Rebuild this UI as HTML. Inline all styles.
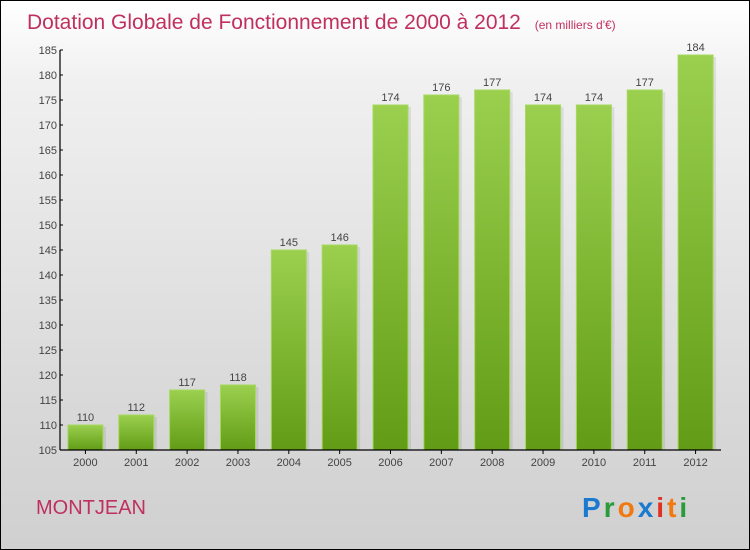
<!DOCTYPE html>
<html><head><meta charset="utf-8"><style>
body{margin:0}
#c{width:750px;height:550px;position:relative;box-sizing:border-box;border:1px solid #000;background:linear-gradient(#ffffff,#f0f0f0 15%,#d8d8d8 75%,#d0d0d0);font-family:"Liberation Sans",sans-serif;overflow:hidden}
</style></head><body>
<div id="c">
<svg width="750" height="550" style="position:absolute;left:-1px;top:-1px">
<defs><linearGradient id="g" x1="0" y1="0" x2="0" y2="1"><stop offset="0" stop-color="#9ad04e"/><stop offset="1" stop-color="#629c16"/></linearGradient></defs>
<text x="27" y="29" font-size="21" fill="#c0305e">Dotation Globale de Fonctionnement de 2000 à 2012 <tspan font-size="12" dx="8">(en milliers d'€)</tspan></text>
<g id="plot"></g>
<text x="36" y="514" font-size="20" fill="#c0305e">MONTJEAN</text>
<text x="582" y="517" font-size="28" font-weight="bold" letter-spacing="3"><tspan fill="#1a7ad0">P</tspan><tspan fill="#2a9a3a">r</tspan><tspan fill="#f07a10">o</tspan><tspan fill="#1a7ad0">x</tspan><tspan fill="#e03020">i</tspan><tspan fill="#f07a10">t</tspan><tspan fill="#2a9a3a">i</tspan></text>
</svg>
</div>
<script>
const categories=["2000","2001","2002","2003","2004","2005","2006","2007","2008","2009","2010","2011","2012"];
const values=[110,112,117,118,145,146,174,176,177,174,174,177,184];
const yTicks=[105,110,115,120,125,130,135,140,145,150,155,160,165,170,175,180,185];
const X0=60,X1=721,Y0=450,Y1=50,YMIN=105,YMAX=185;
const band=(X1-X0)/categories.length;
const y=v=>Y0-(v-YMIN)/(YMAX-YMIN)*(Y0-Y1);
const x=i=>X0+(i+0.5)*band;
const NS="http://www.w3.org/2000/svg";
const g=document.getElementById('plot');
function mk(t,a){const e=document.createElementNS(NS,t);for(const k in a)e.setAttribute(k,a[k]);g.appendChild(e);return e;}
values.forEach((v,i)=>{
 const sh=mk('rect',{x:x(i)-17.5+3,y:y(v)+2,width:35,height:Y0-y(v)-2,fill:'rgba(0,0,0,0.08)'});
 
 
 const r=mk('rect',{x:x(i)-17.5,y:y(v),width:35,height:Y0-y(v),fill:'url(#g)',stroke:'#a6d860','stroke-width':1});
 
 
 const t=mk('text',{x:x(i),y:y(v)-4,'font-size':11,fill:'#444','text-anchor':'middle'});
 t.textContent=v;
 
 
 const c=mk('text',{x:x(i),y:Y0+16,'font-size':11,fill:'#444','text-anchor':'middle'});
 c.textContent=categories[i];
 
 
 const tk=mk('line',{x1:x(i),x2:x(i),y1:Y0,y2:Y0+4,stroke:'#000'});
 
 
});
yTicks.forEach(v=>{
 const l=mk('line',{x1:X0,x2:X0+3,y1:y(v),y2:y(v),stroke:'#000'});
 
 
 const t=mk('text',{x:X0-3,y:y(v)+4,'font-size':11,fill:'#444','text-anchor':'end'});
 t.textContent=v;
 
 
});
const ya=mk('line',{x1:X0,x2:X0,y1:Y1,y2:Y0,stroke:'#000','stroke-width':1.2});


const xa=mk('line',{x1:X0,x2:X1,y1:Y0,y2:Y0,stroke:'#000','stroke-width':1.2});


</script>
</body></html>
